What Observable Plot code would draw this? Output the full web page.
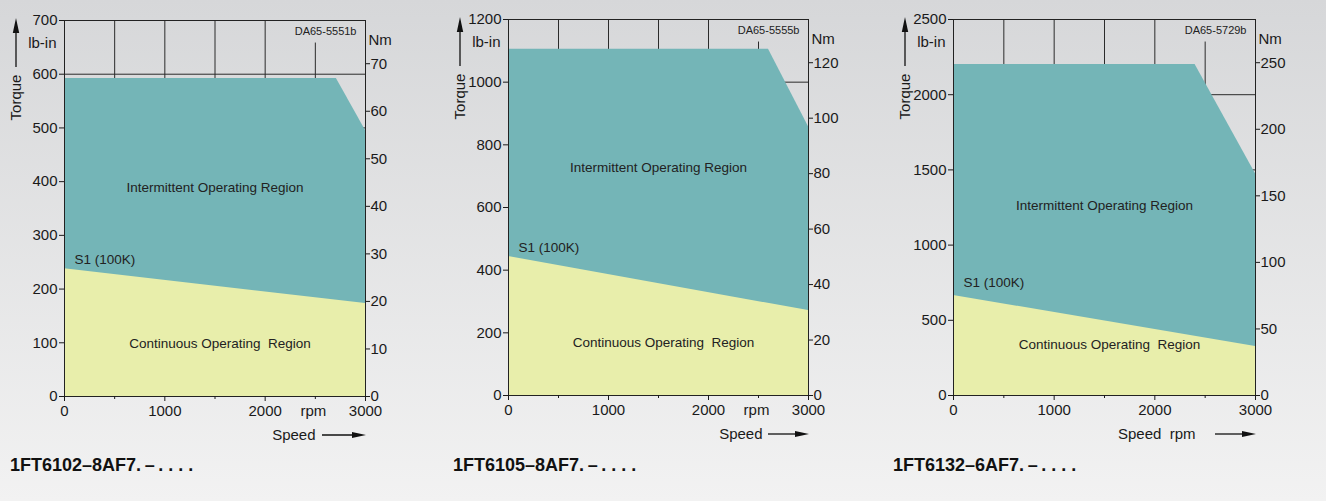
<!DOCTYPE html>
<html><head><meta charset="utf-8">
<script src="https://cdn.jsdelivr.net/npm/d3@7"></script>
<script src="https://cdn.jsdelivr.net/npm/@observablehq/plot@0.6"></script>
<style>
html,body{margin:0;padding:0}
#page{position:relative;width:1326px;height:501px;overflow:hidden;background:linear-gradient(#d6d7d9,#f2f2f2);font-family:"Liberation Sans",Arial,sans-serif;color:#1a1a1a}
.panel{position:absolute}
.title{position:absolute;top:455px;font-weight:bold;font-size:18px;line-height:20px;color:#111;white-space:pre}
</style></head><body><div id="page"></div>
<script>
// ---- data ----
const NM_TO_LBIN = 8.8507;
const modelTitles = ["1FT6102–8AF7.\u2009–\u2009. . . .", "1FT6105–8AF7.\u2009–\u2009. . . .", "1FT6132–6AF7.\u2009–\u2009. . . ."];
const drawingIds = ["DA65-5551b", "DA65-5555b", "DA65-5729b"];
const torqueMax = [700, 1200, 2500];
const torqueStep = [100, 200, 500];
const nmMax = [70, 120, 250];
const nmStep = [10, 20, 50];
const speedTicks = [0, 1000, 2000, 3000];
const speedMinorTicks = [500, 1500, 2500];
const speedGrid = [500, 1000, 1500, 2000];
const speedGridShort = [2500];
const intermittentSpeed = [[0, 2710, 3000], [0, 2600, 3000], [0, 2400, 3000]];
const intermittentTorque = [[592, 592, 495], [1105, 1105, 858], [2200, 2200, 1474]];
const continuousSpeed = [[0, 3000], [0, 3000], [0, 3000]];
const continuousTorque = [[238, 173], [444, 271], [665, 326]];
const intermittentLabelTorque = [389, 728, 1263];
const continuousLabelTorque = [99, 169, 339];
const s1LabelTorque = [255, 472, 751];
const speedAxisLabels = ["Speed", "Speed", "Speed\u00a0\u00a0rpm"];
const rpmNearTicks = [true, true, false];

// ---- layout ----
const panelLeft = [0, 444, 889];
const panelTop = [1, 0, 0];
const frameWidth = [301, 300, 302];
const titleLeft = [10, 453, 893];
const speedDx = [-50, -46, -60];
const arrowStart = [-43, -40, -40];
const TEAL = "#74b5b7", YELLOW = "#e8eeab", GRID = "#2b2b2b";
const FONT = "'Liberation Sans', Arial, Helvetica, sans-serif";

const page = document.getElementById("page");

for (let i = 0; i < 3; i++) {
  const yMax = torqueMax[i];
  const yTicks = d3.range(0, yMax + 1, torqueStep[i]);
  const nmTicks = d3.range(0, nmMax[i] + 1, nmStep[i]);
  const inter = intermittentSpeed[i].map((s, j) => ({speed: s, torque: intermittentTorque[i][j]}));
  const cont = continuousSpeed[i].map((s, j) => ({speed: s, torque: continuousTorque[i][j]}));
  const mL = 64, mR = 60, mT = 19, mB = 56, fh = 376, fw = frameWidth[i];

  const marks = [
    Plot.ruleX(speedGrid, {stroke: GRID, strokeWidth: 1}),
    Plot.ruleX(speedGridShort, {x: d => d, y1: 0, y2: yMax * 0.94, stroke: GRID, strokeWidth: 1}),
    Plot.ruleY(yTicks.filter(t => t > 0 && t < yMax), {stroke: GRID, strokeWidth: 1}),
    Plot.areaY(inter, {x: "speed", y: "torque", fill: TEAL}),
    Plot.areaY(cont, {x: "speed", y: "torque", fill: YELLOW}),
    Plot.frame({stroke: "#222", strokeWidth: 1}),
    Plot.axisY({ticks: yTicks, tickFormat: d => String(d), tickSize: 5, tickPadding: 2, label: null}),
    Plot.axisY({anchor: "right", ticks: nmTicks.map(n => n * NM_TO_LBIN), tickFormat: d => String(Math.round(d / NM_TO_LBIN)), tickSize: 4, tickPadding: 1, label: null}),
    Plot.axisX({ticks: speedTicks, tickFormat: d => String(d), tickSize: 5, tickPadding: 4, label: null}),
    Plot.axisX({ticks: speedMinorTicks, tickFormat: () => "", tickSize: 3, label: null}),
    Plot.text(["Intermittent Operating Region"], {x: 1500, y: intermittentLabelTorque[i], fontSize: 13.5, fill: "#222"}),
    Plot.text(["Continuous Operating\u00a0 Region"], {x: 1550, y: continuousLabelTorque[i], fontSize: 13.5, fill: "#222"}),
    Plot.text(["S1 (100K)"], {x: 100, y: s1LabelTorque[i], textAnchor: "start", fontSize: 13.5, fill: "#222"}),
    Plot.text([drawingIds[i]], {frameAnchor: "top-right", dx: -9, dy: 11, textAnchor: "end", lineAnchor: "middle", fontSize: 11, fill: "#222"}),
    Plot.text(["lb-in"], {frameAnchor: "top-left", dx: -8, dy: 23, textAnchor: "end", lineAnchor: "middle"}),
    Plot.text(["Nm"], {frameAnchor: "top-right", dx: 3, dy: 20, textAnchor: "start", lineAnchor: "middle"}),
    Plot.text(["Torque"], {frameAnchor: "top-left", dx: -48, dy: 77, rotate: -90, textAnchor: "middle", lineAnchor: "middle"}),
    Plot.text([speedAxisLabels[i]], {frameAnchor: "bottom-right", dx: speedDx[i], dy: 39, textAnchor: "end", lineAnchor: "middle"})
  ];
  if (rpmNearTicks[i]) marks.push(Plot.text(["rpm"], {x: 2480, frameAnchor: "bottom", dy: 15, lineAnchor: "middle"}));

  const svg = Plot.plot({
    width: mL + fw + mR, height: mT + fh + mB,
    marginLeft: mL, marginRight: mR, marginTop: mT, marginBottom: mB,
    x: {domain: [0, 3000]}, y: {domain: [0, yMax]},
    style: {background: "transparent", fontFamily: FONT, fontSize: "15px", color: "#1a1a1a", overflow: "visible"},
    marks
  });

  // axis-title arrows
  const s = d3.select(svg);
  const fy0 = mT, fy1 = mT + fh, fx1 = mL + fw;
  const g = s.append("g").attr("fill", "#111").attr("stroke", "#111");
  g.append("line").attr("x1", 16).attr("x2", 16).attr("y1", fy0 + 47).attr("y2", fy0 + 9).attr("stroke-width", 1.3);
  g.append("path").attr("d", `M16,${fy0 - 2}L12.8,${fy0 + 13}L19.2,${fy0 + 13}Z`).attr("stroke", "none");
  const ay = fy1 + 39;
  g.append("line").attr("x1", fx1 + arrowStart[i]).attr("x2", fx1 - 8).attr("y1", ay).attr("y2", ay).attr("stroke-width", 1.3);
  g.append("path").attr("d", `M${fx1 + 1},${ay}L${fx1 - 13},${ay - 3}L${fx1 - 13},${ay + 3}Z`).attr("stroke", "none");

  const div = document.createElement("div");
  div.className = "panel";
  div.style.left = panelLeft[i] + "px";
  div.style.top = panelTop[i] + "px";
  div.appendChild(svg);
  page.appendChild(div);

  const t = document.createElement("div");
  t.className = "title";
  t.style.left = titleLeft[i] + "px";
  t.textContent = modelTitles[i];
  page.appendChild(t);
}
</script>
</body></html>
